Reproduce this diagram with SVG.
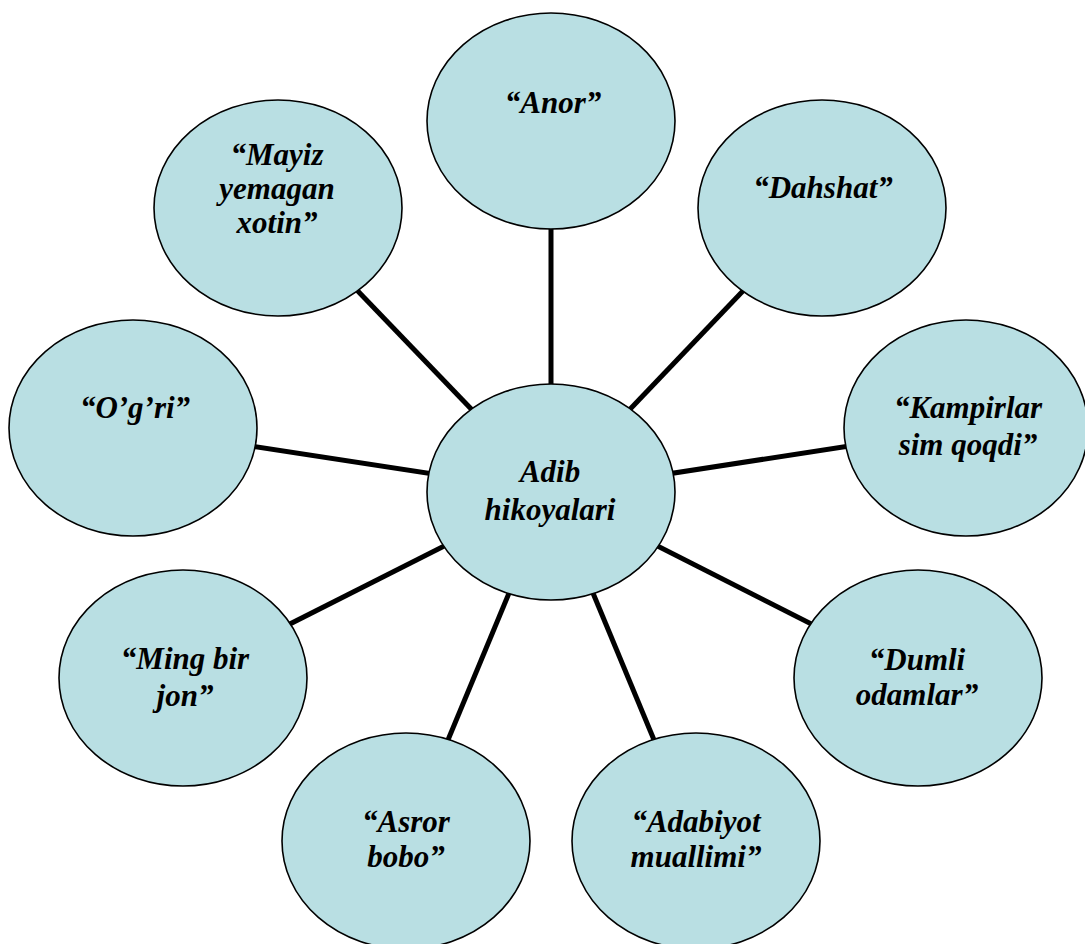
<svg xmlns="http://www.w3.org/2000/svg" width="1085" height="944" viewBox="0 0 1085 944">
<style>
.n{fill:#b9dfe3;stroke:#000;stroke-width:1.6}
.c line{stroke:#000;stroke-width:5}
</style>
<rect width="1085" height="944" fill="#fff"/>
<g class="c" id="connectors">
<line x1="551" y1="492" x2="551" y2="121"/>
<line x1="551" y1="492" x2="822" y2="208"/>
<line x1="551" y1="492" x2="966" y2="428"/>
<line x1="551" y1="492" x2="918" y2="678"/>
<line x1="551" y1="492" x2="696" y2="841"/>
<line x1="551" y1="492" x2="406" y2="841"/>
<line x1="551" y1="492" x2="183" y2="678"/>
<line x1="551" y1="492" x2="133" y2="428"/>
<line x1="551" y1="492" x2="278" y2="208"/>
</g>
<g id="nodes" font-family="Liberation Serif, Times New Roman, DejaVu Serif, serif" font-weight="bold" font-style="italic" font-size="31" text-anchor="middle" fill="#000">
<g id="anor"><ellipse class="n" cx="551" cy="121" rx="124" ry="108"/><text x="553" y="113">“Anor”</text></g>
<g id="dahshat"><ellipse class="n" cx="822" cy="208" rx="124" ry="108"/><text x="823" y="198">“Dahshat”</text></g>
<g id="kampirlar"><ellipse class="n" cx="966" cy="428" rx="122" ry="108"/><text x="968" y="418">“Kampirlar</text><text x="968" y="455">sim qoqdi”</text></g>
<g id="dumli"><ellipse class="n" cx="918" cy="678" rx="124" ry="108"/><text x="917" y="670">“Dumli</text><text x="917" y="705">odamlar”</text></g>
<g id="adabiyot"><ellipse class="n" cx="696" cy="841" rx="124" ry="108"/><text x="696" y="832">“Adabiyot</text><text x="696" y="867">muallimi”</text></g>
<g id="asror"><ellipse class="n" cx="406" cy="841" rx="124" ry="108"/><text x="406" y="832">“Asror</text><text x="406" y="867">bobo”</text></g>
<g id="ming"><ellipse class="n" cx="183" cy="678" rx="124" ry="108"/><text x="185" y="669">“Ming bir</text><text x="185" y="706">jon”</text></g>
<g id="ogri"><ellipse class="n" cx="133" cy="428" rx="124" ry="108"/><text x="135" y="418">“O’g’ri”</text></g>
<g id="mayiz"><ellipse class="n" cx="278" cy="208" rx="124" ry="108"/><text x="277" y="165">“Mayiz</text><text x="277" y="199">yemagan</text><text x="277" y="233">xotin”</text></g>
<g id="center"><ellipse class="n" cx="551" cy="492" rx="124" ry="108"/><text x="550" y="482">Adib</text><text x="550" y="520">hikoyalari</text></g>
</g>
</svg>
